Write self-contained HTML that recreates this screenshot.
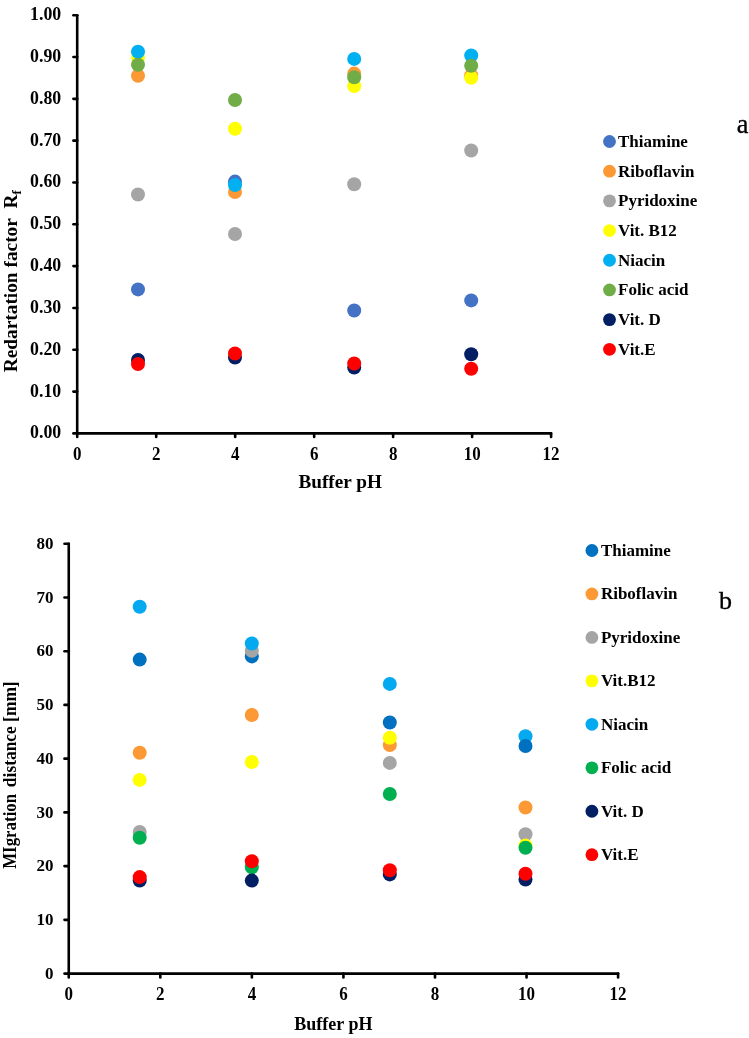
<!DOCTYPE html><html><head><meta charset="utf-8"><title>Chart</title><style>
html,body{margin:0;padding:0;background:#fff;}
svg{display:block;will-change:transform;}
text{font-family:"Liberation Serif", serif;font-weight:bold;fill:#000;}
</style></head><body>
<svg width="749" height="1038" viewBox="0 0 749 1038">
<rect width="749" height="1038" fill="#fff"/>
<g stroke="#000" stroke-width="2.6" fill="none" stroke-linecap="round" stroke-linejoin="round">
<path d="M77.2 15.2 L77.2 433.4"/>
<path d="M73.4 433.4 H77.2"/>
<path d="M73.4 391.58 H77.2"/>
<path d="M73.4 349.76 H77.2"/>
<path d="M73.4 307.94 H77.2"/>
<path d="M73.4 266.12 H77.2"/>
<path d="M73.4 224.3 H77.2"/>
<path d="M73.4 182.48 H77.2"/>
<path d="M73.4 140.66 H77.2"/>
<path d="M73.4 98.84 H77.2"/>
<path d="M73.4 57.02 H77.2"/>
<path d="M73.4 15.2 H77.2"/>
<path d="M77.2 433.4 H551.1"/>
<path d="M77.2 433.4 V437"/>
<path d="M156.18 433.4 V437"/>
<path d="M235.17 433.4 V437"/>
<path d="M314.15 433.4 V437"/>
<path d="M393.13 433.4 V437"/>
<path d="M472.12 433.4 V437"/>
<path d="M551.1 433.4 V437"/>
</g>
<g font-size="17.8" text-anchor="end">
<text transform="translate(61.2 438.4) scale(1 1.1)">0.00</text>
<text transform="translate(61.2 396.58) scale(1 1.1)">0.10</text>
<text transform="translate(61.2 354.76) scale(1 1.1)">0.20</text>
<text transform="translate(61.2 312.94) scale(1 1.1)">0.30</text>
<text transform="translate(61.2 271.12) scale(1 1.1)">0.40</text>
<text transform="translate(61.2 229.3) scale(1 1.1)">0.50</text>
<text transform="translate(61.2 187.48) scale(1 1.1)">0.60</text>
<text transform="translate(61.2 145.66) scale(1 1.1)">0.70</text>
<text transform="translate(61.2 103.84) scale(1 1.1)">0.80</text>
<text transform="translate(61.2 62.02) scale(1 1.1)">0.90</text>
<text transform="translate(61.2 20.2) scale(1 1.1)">1.00</text>
</g>
<g font-size="17" text-anchor="middle">
<text transform="translate(77.2 459.8) scale(1 1.09)">0</text>
<text transform="translate(156.18 459.8) scale(1 1.09)">2</text>
<text transform="translate(235.17 459.8) scale(1 1.09)">4</text>
<text transform="translate(314.15 459.8) scale(1 1.09)">6</text>
<text transform="translate(393.13 459.8) scale(1 1.09)">8</text>
<text transform="translate(472.12 459.8) scale(1 1.09)">10</text>
<text transform="translate(551.1 459.8) scale(1 1.09)">12</text>
</g>
<text x="298.5" y="487.5" font-size="19.2">Buffer pH</text>
<text transform="translate(16.9 372.3) rotate(-90)" font-size="19.35">Redartation factor&#160; R<tspan font-size="13" dy="4">f</tspan></text>
<g stroke="#000" stroke-width="2.6" fill="none" stroke-linecap="round" stroke-linejoin="round">
<path d="M68.75 543.7 L68.75 973.6"/>
<path d="M64.5 973.6 H68.75"/>
<path d="M64.5 919.86 H68.75"/>
<path d="M64.5 866.12 H68.75"/>
<path d="M64.5 812.39 H68.75"/>
<path d="M64.5 758.65 H68.75"/>
<path d="M64.5 704.91 H68.75"/>
<path d="M64.5 651.18 H68.75"/>
<path d="M64.5 597.44 H68.75"/>
<path d="M64.5 543.7 H68.75"/>
<path d="M68.75 973.6 H618.1"/>
<path d="M68.75 973.6 V977.4"/>
<path d="M160.31 973.6 V977.4"/>
<path d="M251.87 973.6 V977.4"/>
<path d="M343.43 973.6 V977.4"/>
<path d="M434.98 973.6 V977.4"/>
<path d="M526.54 973.6 V977.4"/>
<path d="M618.1 973.6 V977.4"/>
</g>
<g font-size="17" text-anchor="end">
<text transform="translate(53.4 978.9) scale(1 1.04)">0</text>
<text transform="translate(53.4 925.16) scale(1 1.04)">10</text>
<text transform="translate(53.4 871.42) scale(1 1.04)">20</text>
<text transform="translate(53.4 817.69) scale(1 1.04)">30</text>
<text transform="translate(53.4 763.95) scale(1 1.04)">40</text>
<text transform="translate(53.4 710.21) scale(1 1.04)">50</text>
<text transform="translate(53.4 656.48) scale(1 1.04)">60</text>
<text transform="translate(53.4 602.74) scale(1 1.04)">70</text>
<text transform="translate(53.4 549) scale(1 1.04)">80</text>
</g>
<g font-size="17" text-anchor="middle">
<text transform="translate(68.75 1000) scale(1 1.09)">0</text>
<text transform="translate(160.31 1000) scale(1 1.09)">2</text>
<text transform="translate(251.87 1000) scale(1 1.09)">4</text>
<text transform="translate(343.43 1000) scale(1 1.09)">6</text>
<text transform="translate(434.98 1000) scale(1 1.09)">8</text>
<text transform="translate(526.54 1000) scale(1 1.09)">10</text>
<text transform="translate(618.1 1000) scale(1 1.09)">12</text>
</g>
<text x="294.3" y="1029.8" font-size="18">Buffer pH</text>
<text transform="translate(15.9 868.8) rotate(-90) scale(0.97 1.03)" font-size="17.4">MIgration</text>
<text transform="translate(15.9 787.13) rotate(-90) scale(1 1.03)" font-size="17.4">distance [mm]</text>
<circle cx="138" cy="289.4" r="7" fill="#4472C4"/>
<circle cx="235" cy="181.6" r="7" fill="#4472C4"/>
<circle cx="354.2" cy="310.5" r="7" fill="#4472C4"/>
<circle cx="471.2" cy="300.4" r="7" fill="#4472C4"/>
<circle cx="138" cy="75.7" r="7" fill="#FD9935"/>
<circle cx="235" cy="192" r="7" fill="#FD9935"/>
<circle cx="354.2" cy="73.6" r="7" fill="#FD9935"/>
<circle cx="471.2" cy="75.5" r="7" fill="#FD9935"/>
<circle cx="138" cy="194.5" r="7" fill="#A5A5A5"/>
<circle cx="235" cy="234" r="7" fill="#A5A5A5"/>
<circle cx="354.2" cy="184.3" r="7" fill="#A5A5A5"/>
<circle cx="471.2" cy="150.5" r="7" fill="#A5A5A5"/>
<circle cx="138" cy="57.8" r="7" fill="#FFFF00"/>
<circle cx="235" cy="128.8" r="7" fill="#FFFF00"/>
<circle cx="354.2" cy="86.1" r="7" fill="#FFFF00"/>
<circle cx="471.2" cy="77.8" r="7" fill="#FFFF00"/>
<circle cx="138" cy="51.8" r="7" fill="#00B0F0"/>
<circle cx="235" cy="185.1" r="7" fill="#00B0F0"/>
<circle cx="354.2" cy="58.9" r="7" fill="#00B0F0"/>
<circle cx="471.2" cy="55.5" r="7" fill="#00B0F0"/>
<circle cx="138" cy="64.7" r="7" fill="#70AD47"/>
<circle cx="235" cy="100" r="7" fill="#70AD47"/>
<circle cx="354.2" cy="77.3" r="7" fill="#70AD47"/>
<circle cx="471.2" cy="65.8" r="7" fill="#70AD47"/>
<circle cx="138" cy="360" r="7" fill="#021F64"/>
<circle cx="235" cy="357.6" r="7" fill="#021F64"/>
<circle cx="354.2" cy="367.6" r="7" fill="#021F64"/>
<circle cx="471.2" cy="354.2" r="7" fill="#021F64"/>
<circle cx="138" cy="364" r="7" fill="#FF0000"/>
<circle cx="235" cy="353.5" r="7" fill="#FF0000"/>
<circle cx="354.2" cy="363.5" r="7" fill="#FF0000"/>
<circle cx="471.2" cy="368.7" r="7" fill="#FF0000"/>
<circle cx="139.7" cy="659.6" r="7" fill="#0070C0"/>
<circle cx="251.8" cy="656.4" r="7" fill="#0070C0"/>
<circle cx="389.8" cy="722.5" r="7" fill="#0070C0"/>
<circle cx="139.7" cy="752.7" r="7" fill="#FD9935"/>
<circle cx="251.8" cy="715" r="7" fill="#FD9935"/>
<circle cx="389.8" cy="745.1" r="7" fill="#FD9935"/>
<circle cx="525.5" cy="807.5" r="7" fill="#FD9935"/>
<circle cx="139.7" cy="831.9" r="7" fill="#A5A5A5"/>
<circle cx="251.8" cy="650.8" r="7" fill="#A5A5A5"/>
<circle cx="389.8" cy="762.9" r="7" fill="#A5A5A5"/>
<circle cx="525.5" cy="834.2" r="7" fill="#A5A5A5"/>
<circle cx="139.7" cy="779.9" r="7" fill="#FFFF00"/>
<circle cx="251.8" cy="762" r="7" fill="#FFFF00"/>
<circle cx="389.8" cy="737.8" r="7" fill="#FFFF00"/>
<circle cx="525.5" cy="845.4" r="7" fill="#FFFF00"/>
<circle cx="139.7" cy="606.8" r="7" fill="#05A9EF"/>
<circle cx="251.8" cy="643.5" r="7" fill="#05A9EF"/>
<circle cx="389.8" cy="683.9" r="7" fill="#05A9EF"/>
<circle cx="525.5" cy="736.3" r="7" fill="#05A9EF"/>
<circle cx="139.7" cy="837.8" r="7" fill="#00B050"/>
<circle cx="251.8" cy="867.3" r="7" fill="#00B050"/>
<circle cx="389.8" cy="794" r="7" fill="#00B050"/>
<circle cx="525.5" cy="847.8" r="7" fill="#00B050"/>
<circle cx="139.7" cy="880.5" r="7" fill="#021F64"/>
<circle cx="251.8" cy="880.6" r="7" fill="#021F64"/>
<circle cx="389.8" cy="874.4" r="7" fill="#021F64"/>
<circle cx="525.5" cy="879.6" r="7" fill="#021F64"/>
<circle cx="139.7" cy="877.1" r="7" fill="#FF0000"/>
<circle cx="251.8" cy="861.2" r="7" fill="#FF0000"/>
<circle cx="389.8" cy="870.3" r="7" fill="#FF0000"/>
<circle cx="525.5" cy="873.8" r="7" fill="#FF0000"/>
<circle cx="525.5" cy="746" r="7" fill="#0070C0"/>
<circle cx="609.5" cy="141.5" r="6.4" fill="#4472C4"/>
<text x="618.0" y="147" font-size="17">Thiamine</text>
<circle cx="609.5" cy="171.19" r="6.4" fill="#FD9935"/>
<text x="618.0" y="176.69" font-size="17">Riboflavin</text>
<circle cx="609.5" cy="200.87" r="6.4" fill="#A5A5A5"/>
<text x="618.0" y="206.37" font-size="17">Pyridoxine</text>
<circle cx="609.5" cy="230.56" r="6.4" fill="#FFFF00"/>
<text x="618.0" y="236.06" font-size="17">Vit. B12</text>
<circle cx="609.5" cy="260.24" r="6.4" fill="#00B0F0"/>
<text x="618.0" y="265.74" font-size="17">Niacin</text>
<circle cx="609.5" cy="289.93" r="6.4" fill="#70AD47"/>
<text x="618.0" y="295.43" font-size="17">Folic acid</text>
<circle cx="609.5" cy="319.61" r="6.4" fill="#021F64"/>
<text x="618.0" y="325.11" font-size="17">Vit. D</text>
<circle cx="609.5" cy="349.3" r="6.4" fill="#FF0000"/>
<text x="618.0" y="354.8" font-size="17">Vit.E</text>
<circle cx="591.9" cy="550.5" r="6.4" fill="#0070C0"/>
<text x="600.9" y="556" font-size="17">Thiamine</text>
<circle cx="591.9" cy="593.96" r="6.4" fill="#FD9935"/>
<text x="600.9" y="599.46" font-size="17">Riboflavin</text>
<circle cx="591.9" cy="637.41" r="6.4" fill="#A5A5A5"/>
<text x="600.9" y="642.91" font-size="17">Pyridoxine</text>
<circle cx="591.9" cy="680.87" r="6.4" fill="#FFFF00"/>
<text x="600.9" y="686.37" font-size="17">Vit.B12</text>
<circle cx="591.9" cy="724.33" r="6.4" fill="#05A9EF"/>
<text x="600.9" y="729.83" font-size="17">Niacin</text>
<circle cx="591.9" cy="767.79" r="6.4" fill="#00B050"/>
<text x="600.9" y="773.29" font-size="17">Folic acid</text>
<circle cx="591.9" cy="811.24" r="6.4" fill="#021F64"/>
<text x="600.9" y="816.74" font-size="17">Vit. D</text>
<circle cx="591.9" cy="854.7" r="6.4" fill="#FF0000"/>
<text x="600.9" y="860.2" font-size="17">Vit.E</text>
<text x="736.7" y="133.3" font-size="26.3" style="font-weight:normal" stroke="#000" stroke-width="0.3">a</text>
<text x="719.1" y="608.5" font-size="26" style="font-weight:normal" stroke="#000" stroke-width="0.3">b</text>
</svg></body></html>
